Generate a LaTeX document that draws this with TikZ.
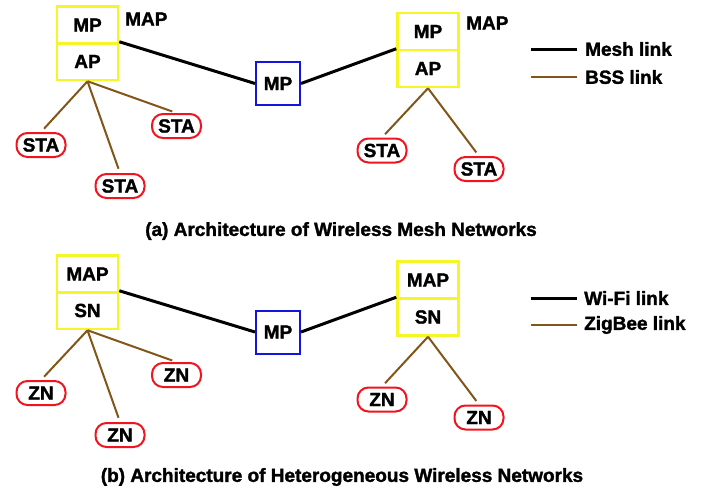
\documentclass[tikz,border=0pt]{standalone}
\usepackage{fontspec}
\setmainfont{Liberation Sans}[BoldFeatures={FakeBold=1.6}]
\definecolor{boxyellow}{RGB}{245,245,40}
\definecolor{linkbrown}{RGB}{130,86,24}
\definecolor{mpblue}{RGB}{20,20,225}
\definecolor{stared}{RGB}{240,20,30}
\begin{document}
\begin{tikzpicture}[x=1pt,y=-1pt,
  font=\fontsize{19}{21}\selectfont\bfseries,
  half/.style={draw=boxyellow,line width=2.5pt,minimum width=61pt,minimum height=37pt,inner sep=0pt},
  mpnode/.style={draw=mpblue,line width=2pt,minimum width=44pt,minimum height=43pt,inner sep=0pt},
  sta/.style={draw=stared,line width=2pt,rounded corners=11pt,minimum width=49pt,minimum height=24pt,inner sep=0pt},
  mesh/.style={black,line width=3pt},
  bss/.style={linkbrown,line width=2pt},
  tostation/.style={bss,shorten >=4.5pt},
  plain/.style={inner sep=0pt}]
\useasboundingbox (0,0) rectangle (704,491);

% ---------------- (a) ----------------
\node[half] (a1t) at (87.5,25) {MP};
\node[half] (a1b) at (87.5,61.5) {AP};
\node[plain,anchor=west] (a1l) at (125,19) {MAP};
\node[mpnode] (amp) at (278,83.5) {MP};
\node[half] (a2t) at (428,31.5) {MP};
\node[half] (a2b) at (428,68.5) {AP};
\node[plain,anchor=west] (a2l) at (466,23) {MAP};

\node[sta] (as1) at (41,145) {STA};
\node[sta] (as2) at (120,186) {STA};
\node[sta] (as3) at (176.5,126) {STA};
\node[sta] (as4) at (382,150.5) {STA};
\node[sta] (as5) at (479,169) {STA};

\draw[mesh] (a1b.north east) -- (amp.west);
\draw[mesh] (amp.east) -- (a2b.north west);
\draw[tostation] (a1b.south) -- (as1.north);
\draw[tostation] (a1b.south) -- (as2.north);
\draw[tostation] (a1b.south) -- (as3.north);
\draw[tostation] (a2b.south) -- (as4.north);
\draw[tostation] (a2b.south) -- (as5.north);

\coordinate (alg1a) at (531,49);
\coordinate (alg1b) at (577,49);
\coordinate (alg2a) at (531,77);
\coordinate (alg2b) at (577,77);
\draw[mesh] (alg1a) -- (alg1b);
\draw[bss] (alg2a) -- (alg2b);
\node[plain,anchor=west] (alt1) at (585,49) {Mesh link};
\node[plain,anchor=west] (alt2) at (585,77) {BSS link};

\node[plain] (acap) at (341,231) {(a) Architecture of Wireless Mesh Networks};

% ---------------- (b) ----------------
\node[half] (b1t) at (87.5,274) {MAP};
\node[half] (b1b) at (87.5,310.5) {SN};
\node[mpnode] (bmp) at (278,332) {MP};
\node[half] (b2t) at (428,280) {MAP};
\node[half] (b2b) at (428,317) {SN};

\node[sta] (bz1) at (41,393) {ZN};
\node[sta] (bz2) at (120,435) {ZN};
\node[sta] (bz3) at (176.5,375) {ZN};
\node[sta] (bz4) at (382,399.5) {ZN};
\node[sta] (bz5) at (479,417.5) {ZN};

\draw[mesh] (b1b.north east) -- (bmp.west);
\draw[mesh] (bmp.east) -- (b2b.north west);
\draw[tostation] (b1b.south) -- (bz1.north);
\draw[tostation] (b1b.south) -- (bz2.north);
\draw[tostation] (b1b.south) -- (bz3.north);
\draw[tostation] (b2b.south) -- (bz4.north);
\draw[tostation] (b2b.south) -- (bz5.north);

\coordinate (blg1a) at (531,298);
\coordinate (blg1b) at (577,298);
\coordinate (blg2a) at (531,325);
\coordinate (blg2b) at (577,325);
\draw[mesh] (blg1a) -- (blg1b);
\draw[bss] (blg2a) -- (blg2b);
\node[plain,anchor=west] (blt1) at (584,298) {Wi-Fi link};
\node[plain,anchor=west] (blt2) at (584,325) {ZigBee link};

\node[plain] (bcap) at (342,477) {(b) Architecture of Heterogeneous Wireless Networks};
\end{tikzpicture}
\end{document}
